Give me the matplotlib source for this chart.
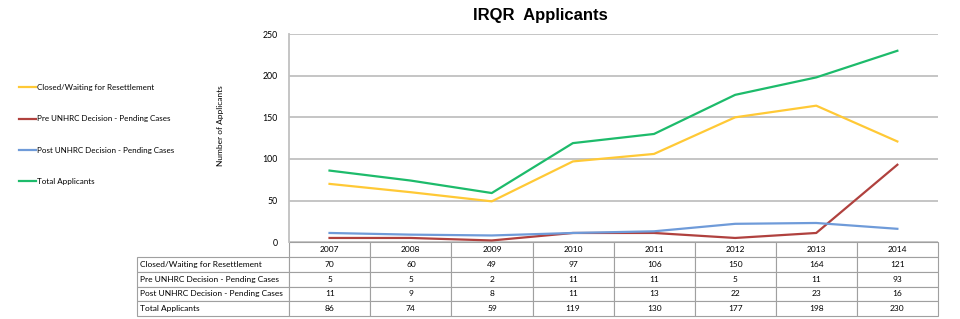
import numpy as np
import matplotlib.pyplot as plt

# data
years = ["2007", "2008", "2009", "2010", "2011", "2012", "2013", "2014"]
closed = [70, 60, 49, 97, 106, 150, 164, 121]
pre_unhrc = [5, 5, 2, 11, 11, 5, 11, 93]
post_unhrc = [11, 9, 8, 11, 13, 22, 23, 16]
total = [86, 74, 59, 119, 130, 177, 198, 230]

series_names = ["Closed/Waiting for Resettlement",
                "Pre UNHRC Decision - Pending Cases",
                "Post UNHRC Decision - Pending Cases",
                "Total Applicants"]
series_values = [closed, pre_unhrc, post_unhrc, total]
colors = ["#FFC936", "#B0413E", "#6F9BD9", "#1DBB6B"]

plt.rcParams['font.family'] = ['Lato', 'DejaVu Sans']

fig = plt.figure(figsize=(9.6, 3.19), dpi=100)
ax = fig.add_axes([0.301, 0.241, 0.676, 0.652])

x = np.arange(len(years))
for name, vals, c in zip(series_names, series_values, colors):
    ax.plot(x, vals, color=c, linewidth=1.6, label=name)

ax.set_xlim(-0.5, len(years) - 0.5)
ax.set_ylim(0, 250)
ax.set_yticks([0, 50, 100, 150, 200, 250])
ax.tick_params(axis='y', length=0, labelsize=6.3, pad=8)
ax.set_xticks([])
ax.grid(axis='y', color="#C0C0C0", linewidth=1.3)
ax.set_axisbelow(True)
for s in ["top", "right", "bottom"]:
    ax.spines[s].set_visible(False)
ax.spines["left"].set_color("#C0C0C0")
ax.spines["left"].set_linewidth(1.3)

ax.set_ylabel("Number of Applicants", fontsize=6, labelpad=28, y=0.5625)
fig.text(0.563, 0.952, "IRQR  Applicants", fontsize=12, fontweight="bold",
         family="Liberation Sans", ha="center", va="center")

# data table under the plot
cell_text = [[""] + years]
for name, vals in zip(series_names, series_values):
    cell_text.append([name] + [str(v) for v in vals])
col_w = [0.19] + [0.10125] * len(years)
tbl = ax.table(cellText=cell_text, colWidths=col_w,
               bbox=[-0.234, -0.356, 1.234, 0.356], cellLoc="center")
tbl.auto_set_font_size(False)
tbl.set_fontsize(6.0)
for (r, c), cell in tbl.get_celld().items():
    cell.set_edgecolor("#A0A0A0")
    cell.set_linewidth(0.8)
    if c == 0:
        cell.get_text().set_ha("left")
        cell.PAD = 0.02
    if r == 0 and c == 0:
        cell.visible_edges = ""

fig.legend(loc="upper left", bbox_to_anchor=(0.012, 0.759), frameon=False,
           fontsize=5.8, handlelength=2.1, handletextpad=0.2, labelspacing=3.02)

plt.savefig("out.png")
